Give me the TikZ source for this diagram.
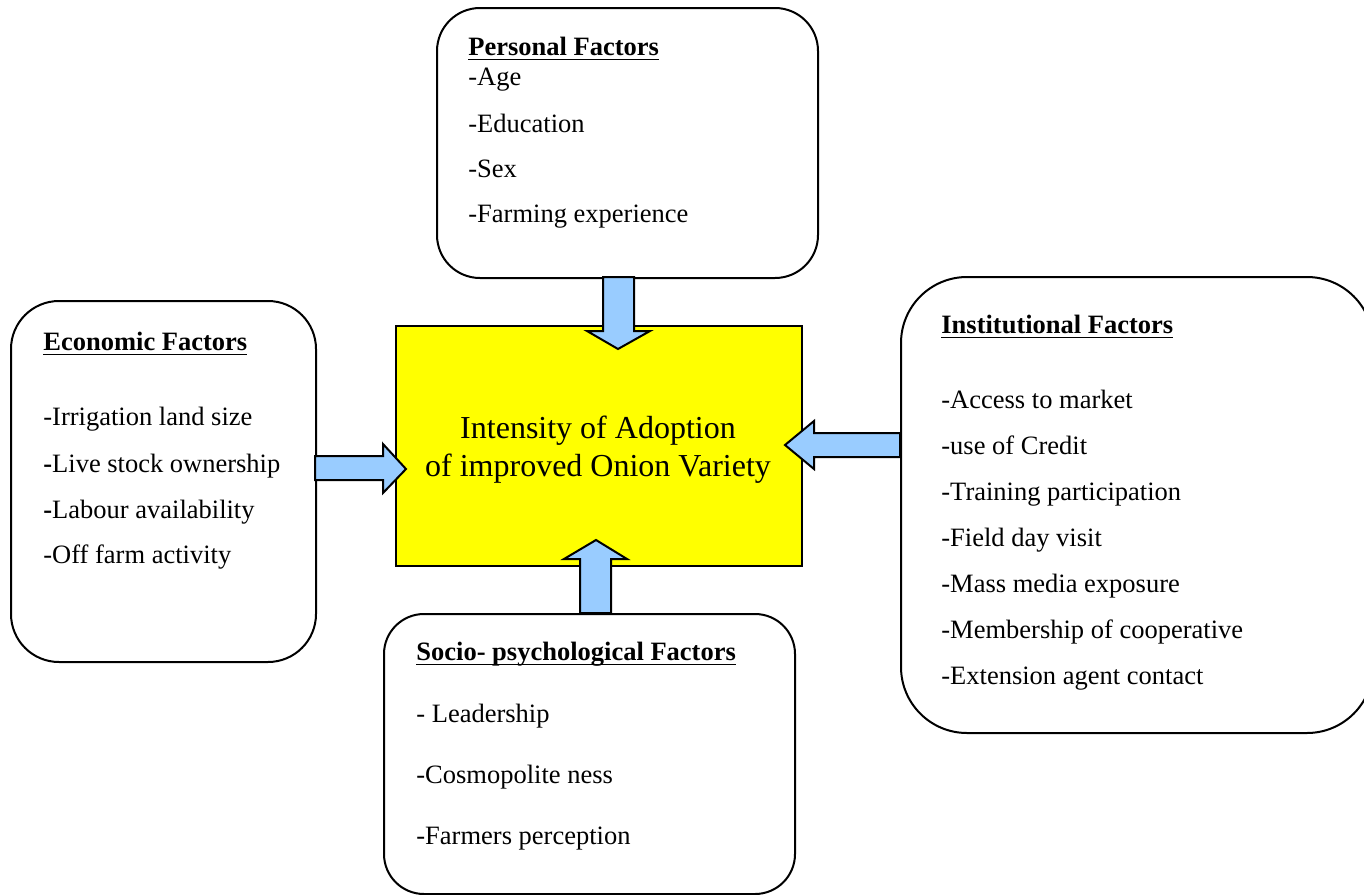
\documentclass[tikz,border=0pt]{standalone}
\usepackage{fontspec}
\setmainfont{Liberation Serif}
\definecolor{arrowblue}{HTML}{99CCFF}
\definecolor{boxyellow}{HTML}{FFFF00}
\newcommand\myul[1]{\leavevmode\setbox0\hbox{#1}\rlap{\rule[-2.7pt]{\wd0}{0.85pt}}\box0}
\begin{document}
\begin{tikzpicture}[x=0.5pt,y=-0.5pt,
  fbox/.style={draw=black, line width=1pt, fill=white, inner sep=0pt, anchor=north west},
  txt/.style={anchor=base west, inner sep=0pt, font=\fontsize{13.25}{16}\selectfont},
  hdr/.style={anchor=base west, inner sep=0pt, font=\fontsize{13.25}{16}\selectfont\bfseries},
  ctxt/.style={anchor=base, inner sep=0pt, font=\fontsize{16}{19}\selectfont},
  barrow/.style={draw=black, line width=1pt, fill=arrowblue, line join=miter}]
\useasboundingbox (0,0) rectangle (1364,894);
\clip (0,0) rectangle (1364,894);
\fill[white] (0,0) rectangle (1364,894);

% boxes
\node[fbox, rounded corners=21.5pt, minimum width=190.5pt, minimum height=135pt] (pers) at (436,7) {};
\node[fbox, rounded corners=24pt, minimum width=152.5pt, minimum height=180.5pt] (econ) at (10,300) {};
\node[fbox, rounded corners=33pt, minimum width=236pt, minimum height=228pt] (inst) at (900,276) {};
\node[fbox, rounded corners=20pt, minimum width=205.5pt, minimum height=140pt] (socio) at (383,613) {};
\node[fbox, fill=boxyellow, minimum width=203pt, minimum height=120pt] (ctr) at (395,325) {};

% arrows
\draw[barrow] (603,277) -- (603,331) -- (587,331) -- (618,349) -- (650,331) -- (634,331) -- (634,277) -- cycle;
\draw[barrow] (580,613) -- (580,559) -- (564,559) -- (596,540) -- (627,559) -- (611,559) -- (611,613) -- cycle;
\draw[barrow] (315,456) -- (383,456) -- (383,444) -- (406,469) -- (383,493) -- (383,480) -- (315,480) -- cycle;
\draw[barrow] (900,433) -- (814,433) -- (814,421) -- (785,445) -- (814,469) -- (814,457) -- (900,457) -- cycle;

% center text
\node[ctxt] (c1) at (598,438) {Intensity of Adoption};
\node[ctxt] (c2) at (598,476) {of improved Onion Variety};

% personal
\node[hdr] (p0) at (468,55) {\myul{Personal Factors}};
\node[txt] (p1) at (468,85) {-Age};
\node[txt] (p2) at (468,132) {-Education};
\node[txt] (p3) at (468,177) {-Sex};
\node[txt] (p4) at (468,222) {-Farming experience};

% economic
\node[hdr] (e0) at (43,350) {\myul{Economic Factors}};
\node[txt] (e1) at (43,425) {-Irrigation land size};
\node[txt] (e2) at (43,472) {\textbf{-}Live stock ownership};
\node[txt] (e3) at (43,518) {\textbf{-}Labour availability};
\node[txt] (e4) at (43,563) {-Off farm activity};

% institutional
\node[hdr] (i0) at (941,333) {\myul{Institutional Factors}};
\node[txt] (i1) at (941,408) {-Access to market};
\node[txt] (i2) at (941,454) {-use of Credit};
\node[txt] (i3) at (941,500) {-Training participation};
\node[txt] (i4) at (941,546) {-Field day visit};
\node[txt] (i5) at (941,592) {-Mass media exposure};
\node[txt] (i6) at (941,638) {-Membership of cooperative};
\node[txt] (i7) at (941,684) {-Extension agent contact};

% socio
\node[hdr] (s0) at (416,660) {\myul{Socio- psychological Factors}};
\node[txt] (s1) at (416,722) {- Leadership};
\node[txt] (s2) at (416,783) {-Cosmopolite ness};
\node[txt] (s3) at (416,844) {-Farmers perception};
\end{tikzpicture}
\end{document}
